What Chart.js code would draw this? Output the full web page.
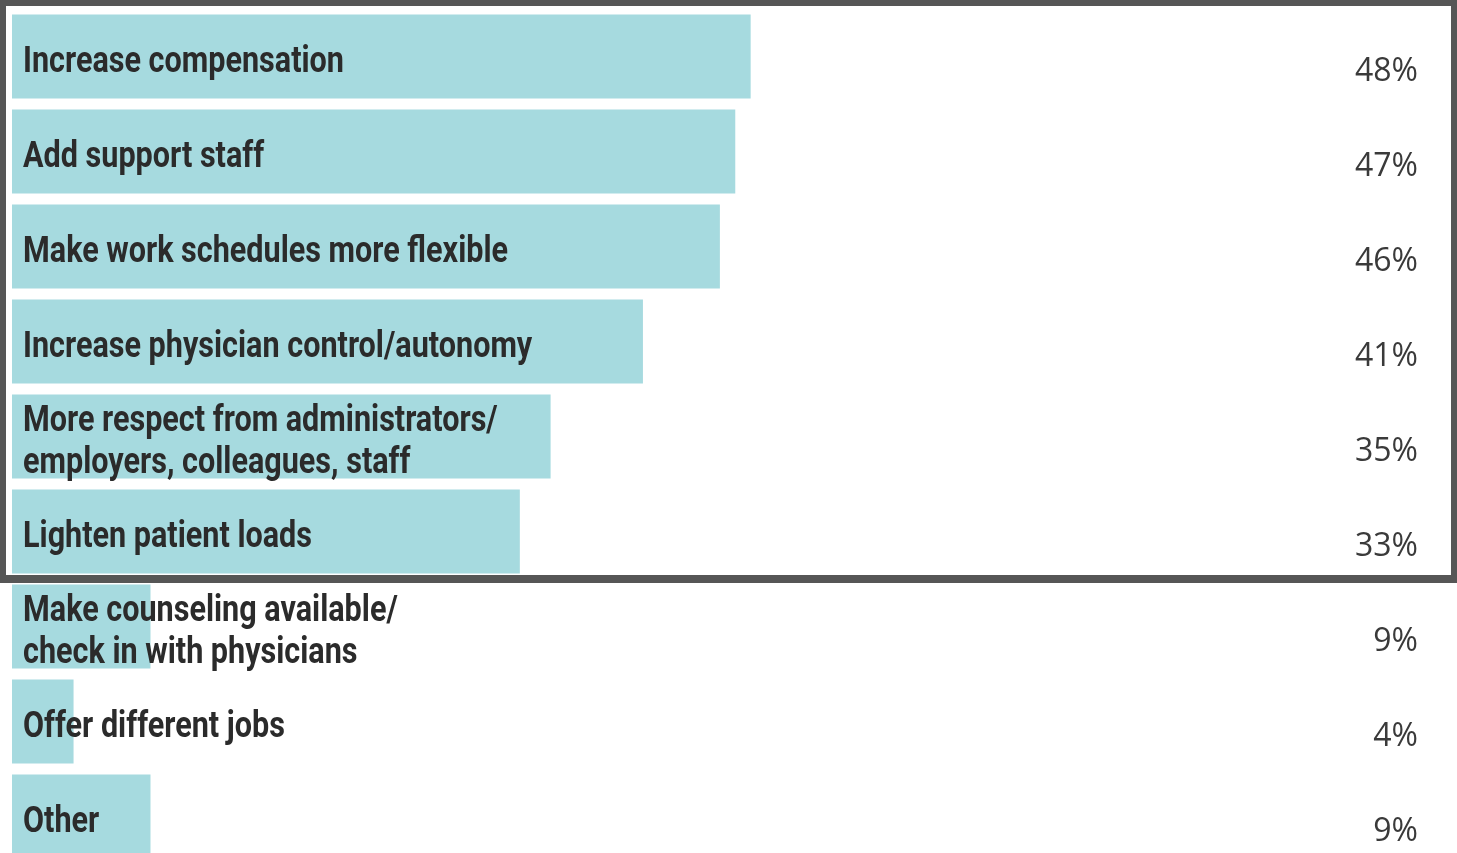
<!DOCTYPE html>
<html>
<head>
<meta charset="utf-8">
<script src="https://cdn.jsdelivr.net/npm/chart.js@4/dist/chart.umd.min.js"></script>
<style>
  html, body { margin: 0; padding: 0; background: #fff; overflow: hidden; }
  #wrap { width: 1457px; height: 864px; position: relative; }
</style>
</head>
<body>
<div id="wrap"><canvas id="myChart"></canvas></div>
<script>
// categories (multi-line labels as arrays)
const categories = [
  ['Increase compensation'],
  ['Add support staff'],
  ['Make work schedules more flexible'],
  ['Increase physician control/autonomy'],
  ['More respect from administrators/', 'employers, colleagues, staff'],
  ['Lighten patient loads'],
  ['Make counseling available/', 'check in with physicians'],
  ['Offer different jobs'],
  ['Other']
];
const values = [48, 47, 46, 41, 35, 33, 9, 4, 9];
const valueLabels = ['48%', '47%', '46%', '41%', '35%', '33%', '9%', '4%', '9%'];
const framedRows = 6; // first rows sit inside the grey frame

const labelPlugin = {
  id: 'rowLabels',
  afterDatasetsDraw(chart) {
    const ctx = chart.ctx;
    const y = chart.scales.y;
    const x = chart.scales.x;
    ctx.save();
    // condensed look: squeeze Roboto bold so first label is ~321px wide
    ctx.font = 'bold 37px Roboto, sans-serif';
    const squeeze = 321 / ctx.measureText(categories[0][0]).width;
    categories.forEach((lines, i) => {
      const cy = y.getPixelForValue(i);
      ctx.font = 'bold 37px Roboto, sans-serif';
      ctx.fillStyle = '#2b2b2b';
      ctx.textAlign = 'left';
      ctx.textBaseline = 'alphabetic';
      const lh = 42;
      const y0 = cy + 15 - (lines.length - 1) * lh / 2;
      const lx = x.getPixelForValue(0) + 11;
      lines.forEach((t, k) => {
        ctx.save();
        ctx.translate(lx, y0 + k * lh);
        ctx.scale(squeeze, 1);
        ctx.fillText(t, 0, 0);
        ctx.restore();
      });
      // value text at right
      ctx.font = '32px "Open Sans", sans-serif';
      ctx.fillStyle = '#3a3a3a';
      ctx.textAlign = 'right';
      ctx.textBaseline = 'middle';
      ctx.fillText(valueLabels[i], 1418, cy + 15);
    });
    // grey frame round the first rows
    const bottom = (y.getPixelForValue(framedRows - 1) + y.getPixelForValue(framedRows)) / 2;
    ctx.fillStyle = '#565656';
    ctx.fillRect(0, 0, 1457, 6);
    ctx.fillRect(0, 0, 6, bottom + 4);
    ctx.fillRect(1451, 0, 6, bottom + 4);
    ctx.fillRect(0, bottom - 4, 1457, 8);
    ctx.restore();
  }
};

const ctx = document.getElementById('myChart');
new Chart(ctx, {
  type: 'bar',
  data: {
    labels: categories,
    datasets: [{
      data: values,
      backgroundColor: '#a6dadf',
      borderWidth: 0,
      categoryPercentage: 1,
      barPercentage: 0.885
    }]
  },
  options: {
    indexAxis: 'y',
    responsive: true,
    maintainAspectRatio: false,
    animation: false,
    layout: { padding: { left: 12, right: 0, top: 9, bottom: 0 } },
    plugins: { legend: { display: false }, tooltip: { enabled: false } },
    scales: {
      x: { display: false, min: 0, max: 93.9 },
      y: { display: false }
    }
  },
  plugins: [labelPlugin]
});
</script>
</body>
</html>
